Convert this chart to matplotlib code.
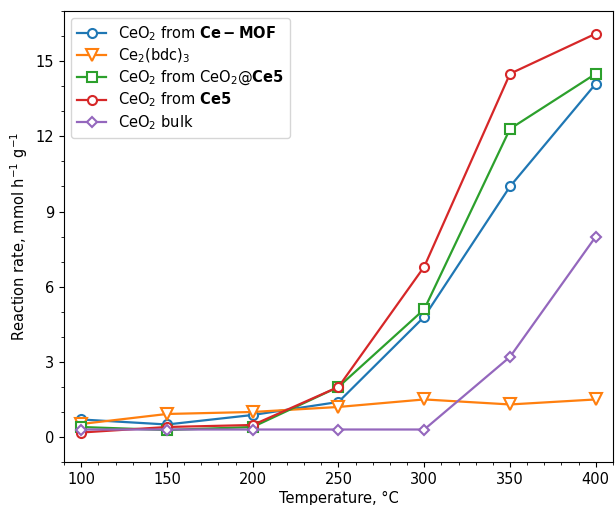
import matplotlib
matplotlib.use('Agg')
import matplotlib.pyplot as plt
from matplotlib.ticker import MultipleLocator

# --- data ---
temperature = [100, 150, 200, 250, 300, 350, 400]
rate_ce_mof = [0.7, 0.5, 0.88, 1.4, 4.8, 10.0, 14.1]
rate_ce2bdc3 = [0.52, 0.92, 1.0, 1.2, 1.5, 1.3, 1.5]
rate_ceo2_ce5 = [0.4, 0.28, 0.4, 2.0, 5.1, 12.3, 14.5]
rate_ce5 = [0.18, 0.4, 0.48, 2.0, 6.8, 14.5, 16.1]
rate_bulk = [0.3, 0.3, 0.3, 0.3, 0.3, 3.2, 8.0]

series = [
    (rate_ce_mof, r'CeO$_2$ from $\mathbf{Ce-MOF}$', 'o', '#1f77b4'),
    (rate_ce2bdc3, r'Ce$_2$(bdc)$_3$', 'v', '#ff7f0e'),
    (rate_ceo2_ce5, r'CeO$_2$ from CeO$_2$@$\mathbf{Ce5}$', 's', '#2ca02c'),
    (rate_ce5, r'CeO$_2$ from $\mathbf{Ce5}$', 'o', '#d62728'),
    (rate_bulk, r'CeO$_2$ bulk', 'D', '#9467bd'),
]
marker_sizes = {'o': 6.5, 'v': 8, 's': 6.5, 'D': 5.5}

fig = plt.figure(figsize=(6.16, 5.05), dpi=100)
ax = fig.add_axes([0.104, 0.085, 0.891, 0.893])

for vals, label, mk, col in series:
    ax.plot(temperature, vals, '-', marker=mk, color=col, lw=1.6,
            markersize=marker_sizes[mk], markerfacecolor='white',
            markeredgewidth=1.5, label=label)

ax.set_xlim(90, 410)
ax.set_ylim(-1, 17)
ax.xaxis.set_major_locator(MultipleLocator(50))
ax.xaxis.set_minor_locator(MultipleLocator(10))
ax.yaxis.set_major_locator(MultipleLocator(3))
ax.yaxis.set_minor_locator(MultipleLocator(1))
ax.tick_params(labelsize=10.5)
ax.set_xlabel('Temperature, °C', fontsize=10.5, labelpad=3)
ax.set_ylabel(r'Reaction rate, mmol h$^{-1}$ g$^{-1}$', fontsize=10.5)
ax.legend(loc='upper left', fontsize=10.5, handlelength=2.0,
          labelspacing=0.25, borderaxespad=0.5)

fig.savefig('out.png', dpi=100)
